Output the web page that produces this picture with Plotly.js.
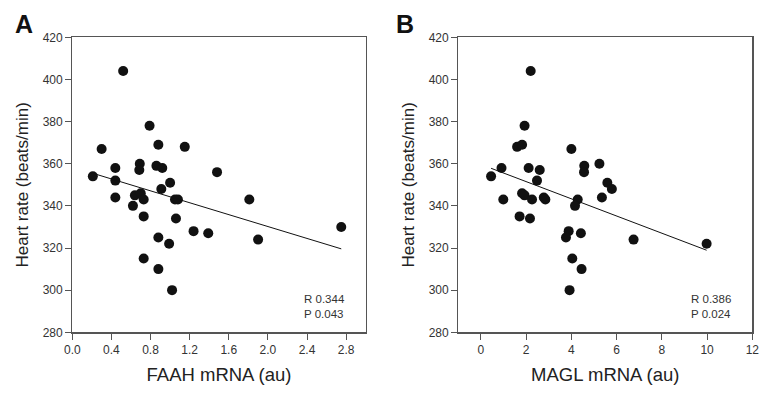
<!DOCTYPE html>
<html><head><meta charset="utf-8">
<script src="https://cdn.plot.ly/plotly-3.0.1.min.js"></script>
<style>html,body{margin:0;padding:0;background:#fff}#chart{width:762px;height:393px}</style>
</head><body><div id="chart"></div>
<script>
// Panel A: FAAH mRNA vs heart rate
const faah = [0.52,0.79,0.30,0.88,1.15,0.69,0.685,0.44,0.86,0.92,0.21,0.44,1.48,0.91,1.00,0.44,0.64,0.70,0.73,1.05,1.08,0.62,1.81,0.73,1.06,1.24,1.39,0.88,0.99,1.90,2.75,0.73,0.88,1.02];
const hrA  = [404,378,367,369,368,360,357,358,359,358,354,352,356,348,351,344,345,346,343,343,343,340,343,335,334,328,327,325,322,324,330,315,310,300];
// Panel B: MAGL mRNA vs heart rate
const magl = [2.20,1.93,1.60,1.82,4.00,0.91,2.11,2.60,4.57,4.56,5.24,0.45,2.48,5.59,5.79,1.82,1.93,0.99,2.26,2.78,2.85,4.28,4.16,5.35,1.71,2.17,3.88,3.76,4.42,6.75,9.98,4.04,4.45,3.92];
const hrB  = [404,378,368,369,367,358,358,357,359,356,360,354,352,351,348,346,345,343,343,344,343,343,340,344,335,334,328,325,327,324,322,315,310,300];
const statsA = ["R 0.344","P 0.043"];
const statsB = ["R 0.386","P 0.024"];
const xTicksA = [0,0.4,0.8,1.2,1.6,2.0,2.4,2.8];
const xTicksB = [0,2,4,6,8,10,12];
const yTicks = [280,300,320,340,360,380,400,420];

function fit(x, y) {
  const n = x.length;
  const mx = x.reduce((a,b)=>a+b,0)/n, my = y.reduce((a,b)=>a+b,0)/n;
  let sxy=0, sxx=0;
  for (let i=0;i<n;i++){ sxy+=(x[i]-mx)*(y[i]-my); sxx+=(x[i]-mx)**2; }
  const b = sxy/sxx, a = my - b*mx;
  const x0 = Math.min(...x), x1 = Math.max(...x);
  return {x:[x0,x1], y:[a+b*x0, a+b*x1]};
}
const fA = fit(faah, hrA), fB = fit(magl, hrB);

const FONT = 'Liberation Sans, Arial, Helvetica, sans-serif';
const marker = {color:'#111', size:10, line:{width:0}};
const traces = [
  {x:faah, y:hrA, mode:'markers', type:'scatter', marker, xaxis:'x', yaxis:'y', cliponaxis:false},
  {x:fA.x, y:fA.y, mode:'lines', type:'scatter', line:{color:'#111', width:1}, xaxis:'x', yaxis:'y'},
  {x:magl, y:hrB, mode:'markers', type:'scatter', marker, xaxis:'x2', yaxis:'y2', cliponaxis:false},
  {x:fB.x, y:fB.y, mode:'lines', type:'scatter', line:{color:'#111', width:1}, xaxis:'x2', yaxis:'y2'}
];
const axCommon = {showline:true, mirror:true, linecolor:'#555', linewidth:1.2, ticks:'outside', ticklen:6, tickwidth:1, tickcolor:'#555',
  showgrid:false, zeroline:false, automargin:false, tickfont:{family:FONT, size:12, color:'#333'}};
const yd = [1-332.3/393, 1-37.3/393];
const layout = {
  width:762, height:393, margin:{l:0,r:0,t:0,b:0}, showlegend:false,
  paper_bgcolor:'#fff', plot_bgcolor:'#fff', font:{family:FONT, color:'#333'},
  xaxis: Object.assign({}, axCommon, {domain:[72.3/762, 365.7/762], range:[0,3.0], tickvals:xTicksA, ticktext:xTicksA.map(v=>v.toFixed(1)),
    title:{text:'FAAH mRNA (au)', font:{family:FONT, size:18.5, color:'#222'}, standoff:12}}),
  yaxis: Object.assign({}, axCommon, {domain:yd, range:[280,420], tickvals:yTicks,
    title:{text:'Heart rate (beats/min)', font:{family:FONT, size:17, color:'#222'}, standoff:9}}),
  xaxis2: Object.assign({}, axCommon, {anchor:'y2', domain:[458.3/762, 752.3/762], range:[-1,12], tickvals:xTicksB,
    title:{text:'MAGL mRNA (au)', font:{family:FONT, size:18.5, color:'#222'}, standoff:12}}),
  yaxis2: Object.assign({}, axCommon, {anchor:'x2', domain:yd, range:[280,420], tickvals:yTicks,
    title:{text:'Heart rate (beats/min)', font:{family:FONT, size:17, color:'#222'}, standoff:9}}),
  annotations:[
    {text:'<b>A</b>', xref:'paper', yref:'paper', x:23.5/762, y:1-23.5/393, xanchor:'center', yanchor:'middle', showarrow:false, font:{family:FONT, size:25, color:'#111'}},
    {text:'<b>B</b>', xref:'paper', yref:'paper', x:404.5/762, y:1-23.5/393, xanchor:'center', yanchor:'middle', showarrow:false, font:{family:FONT, size:25, color:'#111'}},
    {text:statsA.join('<br>'), xref:'x domain', yref:'y domain', x:0.935, y:0.035, xanchor:'right', yanchor:'bottom', align:'left', showarrow:false, font:{family:FONT, size:11.5, color:'#333'}},
    {text:statsB.join('<br>'), xref:'x2 domain', yref:'y2 domain', x:0.935, y:0.035, xanchor:'right', yanchor:'bottom', align:'left', showarrow:false, font:{family:FONT, size:11.5, color:'#333'}}
  ]
};
Plotly.newPlot('chart', traces, layout, {displayModeBar:false, staticPlot:true});
</script></body></html>
